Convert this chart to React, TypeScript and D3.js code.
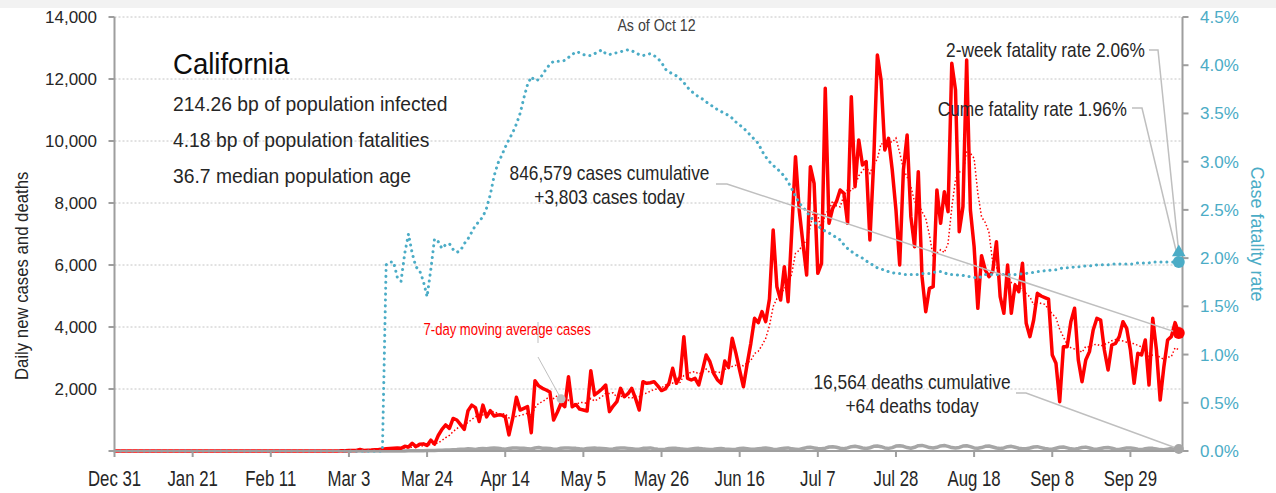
import React from "react";
import * as d3 from "d3";

// ---------- DATA ----------
const startDate = new Date(2019, 11, 31);
const tickLabels = ["Dec 31","Jan 21","Feb 11","Mar 3","Mar 24","Apr 14","May 5","May 26","Jun 16","Jul 7","Jul 28","Aug 18","Sep 8","Sep 29"];
const leftTicks = [0, 2000, 4000, 6000, 8000, 10000, 12000, 14000];
const rightTicks = [0, 0.005, 0.01, 0.015, 0.02, 0.025, 0.03, 0.035, 0.04, 0.045];

// daily new cases (Dec 31 - Feb 29 all zero)
const casesDecFeb = [0,0,0,0,0,0,0,0,0,0,0,0,0,0,0,0,0,0,0,0,0,0,0,0,0,0,0,0,0,0,0,0,0,0,0,0,0,0,0,0,0,0,0,0,0,0,0,0,0,0,0,0,0,0,0,0,0,0,0,0,0];
const casesMar = [10,5,15,20,15,50,20,25,30,40,45,60,70,80,90,100,90,150,130,250,140,220,230,180,350,220,500,700,840,730,1050];
const casesApr = [1000,850,700,1300,1480,1400,950,1480,1100,1300,1130,1160,1160,1100,520,1050,1731,1320,1376,1430,590,2268,2100,2022,1968,1900,1000,1250,1540,1430];
const casesMay = [2397,1430,1500,1350,1322,1290,2591,1807,1900,2000,2129,1270,1450,1591,2022,1750,1850,2022,1700,1322,2236,2183,2200,2236,2100,1950,2000,2183,2667,2183,2400];
const casesJun = [3688,2344,2290,2344,2129,2600,3097,2882,2506,2300,2183,2900,2700,3634,3150,2600,2075,2800,3473,4280,4140,4495,4175,4900,7130,5301,4871,5946,4817,7100];
const casesJul = [9495,7775,6700,5678,9173,8635,5732,6054,11700,7345,7829,8043,8420,8312,7345,11431,8527,10033,9226,9334,6807,9280,12775,11968,9710,10087,9065,7775,6000,9065,10194];
const casesAug = [7560,6592,9012,5624,4495,5248,5301,8420,7345,8366,7721,12506,11646,7076,7883,12614,7775,6592,4603,6300,5839,5624,5800,6753,4979,4441,6000,4441,5355,5140,6054];
const casesSep = [4119,3688,4226,5086,5000,4950,4900,3097,2828,1591,3366,3366,4172,4603,2935,2237,2935,3205,3903,4280,4226,3258,2613,3420,3473,3688,4172,3957,3258,2183];
const casesOct = [3151,3097,3581,2129,4280,3258,1645,2720,3581,3688,4140,3803];

// daily new deaths (from Mar 1)
const deathsMar = [0,0,0,1,0,0,1,0,1,2,1,2,3,2,1,3,5,4,6,8,7,10,12,15,18,20,24,26,30,35,40];
const deathsApr = [45,55,60,70,65,50,70,80,75,85,95,90,70,60,80,95,100,90,85,75,65,95,110,90,85,80,60,55,90,100];
const deathsMay = [95,90,85,70,60,80,90,100,85,80,75,60,65,90,95,100,85,70,55,60,85,90,100,75,60,50,55,80,90,85,70];
const deathsJun = [60,50,65,80,85,70,60,50,60,75,80,65,55,45,60,80,90,75,60,55,70,85,95,80,60,50,75,90,100,70];
const deathsJul = [60,50,80,110,120,100,80,70,90,130,140,120,90,75,100,140,150,130,95,80,105,150,160,140,100,85,110,160,170,150,110];
const deathsAug = [90,120,170,180,150,110,95,120,165,175,150,110,95,115,160,170,140,100,90,110,150,160,130,95,80,100,140,150,120,90,75];
const deathsSep = [70,95,130,140,110,80,65,60,90,120,130,100,70,60,85,115,125,95,65,55,80,105,110,90,60,50,75,100,100,80];
const deathsOct = [55,45,70,90,85,65,45,40,60,80,75,64];

// cumulative case fatality rate, percent
const cfrDecFeb = [0,0,0,0,0,0,0,0,0,0,0,0,0,0,0,0,0,0,0,0,0,0,0,0,0,0,0,0,0,0,0,0,0,0,0,0,0,0,0,0,0,0,0,0,0,0,0,0,0,0,0,0,0,0,0,0,0,0,0,0,0];
const cfrMar = [0,0,0,0,0,0,0,0,0,0,0,0,1.93,1.96,1.96,1.80,1.76,2.05,2.25,2.05,1.91,1.87,1.76,1.60,1.88,2.20,2.17,2.10,2.14,2.15,2.09];
const cfrApr = [2.06,2.08,2.15,2.20,2.27,2.34,2.38,2.43,2.52,2.66,2.85,2.98,3.06,3.15,3.23,3.30,3.39,3.50,3.66,3.80,3.88,3.84,3.85,3.90,3.96,4.01,4.04,4.04,4.04,4.05];
const cfrMay = [4.08,4.11,4.14,4.13,4.11,4.10,4.10,4.12,4.14,4.16,4.12,4.11,4.12,4.13,4.14,4.15,4.16,4.15,4.13,4.11,4.10,4.11,4.12,4.10,4.07,4.03,3.96,3.93,3.91,3.89,3.86];
const cfrJun = [3.82,3.77,3.73,3.70,3.67,3.65,3.62,3.59,3.57,3.54,3.52,3.50,3.48,3.45,3.41,3.38,3.35,3.31,3.27,3.23,3.19,3.11,3.05,3.00,2.96,2.93,2.89,2.85,2.79,2.72];
const cfrJul = [2.64,2.57,2.53,2.48,2.43,2.38,2.34,2.30,2.28,2.26,2.24,2.21,2.19,2.14,2.10,2.07,2.04,2.02,2.00,1.97,1.95,1.92,1.90,1.89,1.87,1.86,1.85,1.84,1.84,1.83,1.83];
const cfrAug = [1.83,1.83,1.83,1.84,1.84,1.84,1.85,1.86,1.86,1.85,1.83,1.83,1.83,1.82,1.82,1.81,1.81,1.80,1.79,1.81,1.83,1.83,1.83,1.83,1.83,1.83,1.83,1.83,1.83,1.83,1.84];
const cfrSep = [1.84,1.85,1.85,1.86,1.86,1.87,1.87,1.88,1.88,1.89,1.90,1.90,1.90,1.91,1.91,1.91,1.92,1.92,1.92,1.93,1.93,1.93,1.93,1.94,1.94,1.94,1.94,1.94,1.94,1.94];
const cfrOct = [1.95,1.95,1.95,1.95,1.96,1.96,1.96,1.96,1.96,1.96,1.96,1.96];

const twoWeekRate = 2.06;
const cumeRate = 1.96;
const maWindow = 7;

// ---------- COMPONENT ----------
const FONT = "'Liberation Sans', Arial, sans-serif";
const CYAN = "#4bacc6";
const RED = "#ff0000";
const GREY = "#a6a6a6";
const CONN = "#bfbfbf";
const TEXT = "#262626";

function T(p: { x: number; y: number; size: number; sx?: number; anchor?: string; fill?: string; rotate?: number; children: any }) {
  const tr = `translate(${p.x},${p.y})${p.rotate ? ` rotate(${p.rotate})` : ""} scale(${p.sx ?? 1},1)`;
  return (
    <text transform={tr} fontSize={p.size} textAnchor={p.anchor ?? "start"} fill={p.fill ?? TEXT} fontFamily={FONT}>
      {p.children}
    </text>
  );
}

export default function App() {
  const W = 1276, H = 493;
  const L = 114.5, R = 1182.5, TOP = 17, BOT = 451;

  const cases = [...casesDecFeb, ...casesMar, ...casesApr, ...casesMay, ...casesJun, ...casesJul, ...casesAug, ...casesSep, ...casesOct];
  const deaths = [...deathsMar, ...deathsApr, ...deathsMay, ...deathsJun, ...deathsJul, ...deathsAug, ...deathsSep, ...deathsOct];
  const deathOffset = casesDecFeb.length;
  const cfr = [...cfrDecFeb, ...cfrMar, ...cfrApr, ...cfrMay, ...cfrJun, ...cfrJul, ...cfrAug, ...cfrSep, ...cfrOct];
  const dates = cases.map((_, i) => d3.timeDay.offset(startDate, i));
  const ma = cases.map((_, i) => (i < maWindow - 1 ? null : d3.mean(cases.slice(i - maWindow + 1, i + 1)) as number));

  const x = d3.scaleTime().domain([startDate, d3.timeDay.offset(startDate, 287)]).range([L, R]);
  const yL = d3.scaleLinear().domain([0, 14000]).range([BOT, TOP]);
  const yR = d3.scaleLinear().domain([0, 0.045]).range([BOT, TOP]);

  const tickDates = tickLabels.map((_, i) => d3.timeDay.offset(startDate, 21 * i));
  const fmtDate = d3.timeFormat("%b %-d");
  const fmtL = d3.format(",");
  const fmtR = d3.format(".1%");

  const caseLine = d3.line<number>().x((_, i) => x(dates[i])).y((v) => yL(v))(cases) || "";
  const maLine = d3.line<number | null>().defined((v) => v != null).x((_, i) => x(dates[i])).y((v) => yL(v as number))(ma) || "";
  const deathLine = d3.line<number>().x((_, i) => x(dates[i + deathOffset])).y((v) => yL(v))(deaths) || "";
  const cfrLine = d3.line<number>().x((_, i) => x(dates[i])).y((v) => yR(v / 100))(cfr) || "";

  const last = cases.length - 1;
  const xe = x(dates[last]);
  const yCase = yL(cases[last]);
  const yDeath = yL(deaths[deaths.length - 1]);
  const yCume = yR(cumeRate / 100);
  const y2w = yR(twoWeekRate / 100);
  const maIdx = 120;
  const maX = x(dates[maIdx]);
  const maY = yL(ma[maIdx] as number);
  const tri = d3.symbol().type(d3.symbolTriangle).size(80)() || "";

  return (
    <svg width={W} height={H} style={{ position: "absolute", left: 0, top: 0, display: "block", background: "#fff" }}>
      <rect x={0} y={0} width={W} height={8} fill="#f2f2f2" />
      {/* gridlines */}
      {leftTicks.filter((t) => t > 0).map((t) => (
        <line key={"g" + t} x1={L} x2={R} y1={yL(t)} y2={yL(t)} stroke="#c4c4c4" strokeWidth={1} strokeDasharray="2 2" />
      ))}
      {/* series */}
      <path d={deathLine} fill="none" stroke={GREY} strokeWidth={3.5} strokeLinejoin="round" />
      <path d={caseLine} fill="none" stroke={RED} strokeWidth={3.5} strokeLinejoin="round" />
      <path d={maLine} fill="none" stroke={RED} strokeWidth={1.5} strokeDasharray="1.5 2.2" />
      <path d={cfrLine} fill="none" stroke={CYAN} strokeWidth={3} strokeDasharray="0.1 5.8" strokeLinecap="round" />

      {/* axes */}
      <line x1={L} x2={L} y1={TOP} y2={BOT} stroke="#9e9e9e" strokeWidth={2} />
      <line x1={R} x2={R} y1={TOP} y2={BOT} stroke="#9e9e9e" strokeWidth={2} />
      <line x1={L} x2={R} y1={BOT} y2={BOT} stroke="#9e9e9e" strokeWidth={2} />
      {leftTicks.map((t) => (
        <g key={"l" + t}>
          <line x1={L - 6} x2={L} y1={yL(t)} y2={yL(t)} stroke="#9e9e9e" strokeWidth={2} />
          {t > 0 && <T x={97} y={yL(t) + 6} size={17} anchor="end">{fmtL(t)}</T>}
        </g>
      ))}
      {rightTicks.map((t) => (
        <g key={"r" + t}>
          <line x1={R} x2={R + 6} y1={yR(t)} y2={yR(t)} stroke="#9e9e9e" strokeWidth={2} />
          <T x={1200} y={yR(t) + 6} size={17} fill={CYAN}>{fmtR(t)}</T>
        </g>
      ))}
      {tickDates.map((d, i) => (
        <g key={"x" + i}>
          <line x1={x(d)} x2={x(d)} y1={BOT} y2={BOT + 6} stroke="#9e9e9e" strokeWidth={2} />
          <T x={x(d)} y={486} size={21.5} sx={0.78} anchor="middle">{fmtDate(d)}</T>
        </g>
      ))}
      <T x={28} y={380} size={18} sx={0.93} rotate={-90}>Daily new cases and deaths</T>
      <T x={1251} y={234} size={18} rotate={90} anchor="middle" fill={CYAN}>Case fatality rate</T>

      {/* header text */}
      <T x={173} y={74} size={29} sx={0.95} fill="#0d0d0d">California</T>
      <T x={173} y={111} size={20} sx={0.965}>214.26 bp of population infected</T>
      <T x={173} y={146.5} size={20} sx={0.965}>4.18 bp of population fatalities</T>
      <T x={173} y={182.5} size={20} sx={0.965}>36.7 median population age</T>
      <T x={656.5} y={31} size={16} sx={0.89} anchor="middle" fill="#404040">As of Oct 12</T>

      {/* 7-day label */}
      <T x={423.5} y={335} size={17} sx={0.77} fill={RED}>7-day moving average cases</T>
      <line x1={538} x2={538} y1={322} y2={343} stroke={CONN} strokeWidth={1} />
      <line x1={538} y1={357} x2={maX} y2={maY} stroke={CONN} strokeWidth={1} />
      <circle cx={maX} cy={maY} r={4.5} fill={CONN} />

      {/* annotations */}
      <T x={609.5} y={180} size={20} sx={0.865} anchor="middle">846,579 cases cumulative</T>
      <T x={609.5} y={203.5} size={20} sx={0.865} anchor="middle">+3,803 cases today</T>
      <polyline points={`716,184 727,184 ${xe},${yCase}`} fill="none" stroke={CONN} strokeWidth={1.5} />

      <T x={912} y={389} size={20} sx={0.865} anchor="middle">16,564 deaths cumulative</T>
      <T x={912} y={413} size={20} sx={0.865} anchor="middle">+64 deaths today</T>
      <polyline points={`1016,393 1026,393 ${xe},${yDeath}`} fill="none" stroke={CONN} strokeWidth={1.5} />

      <T x={1145} y={57} size={20} sx={0.865} anchor="end">2-week fatality rate 2.06%</T>
      <polyline points={`1149,50 1158,50 ${xe},${y2w}`} fill="none" stroke={CONN} strokeWidth={1.5} />
      <T x={1127} y={116} size={20} sx={0.865} anchor="end">Cume fatality rate 1.96%</T>
      <polyline points={`1132,108 1142,108 ${xe},${yCume}`} fill="none" stroke={CONN} strokeWidth={1.5} />

      {/* end markers */}
      <circle cx={xe} cy={yCase} r={6} fill={RED} />
      <circle cx={xe} cy={yDeath} r={5} fill={GREY} />
      <circle cx={xe} cy={yCume} r={6} fill={CYAN} />
      <path d={tri} transform={`translate(${xe},${y2w})`} fill={CYAN} />
    </svg>
  );
}
